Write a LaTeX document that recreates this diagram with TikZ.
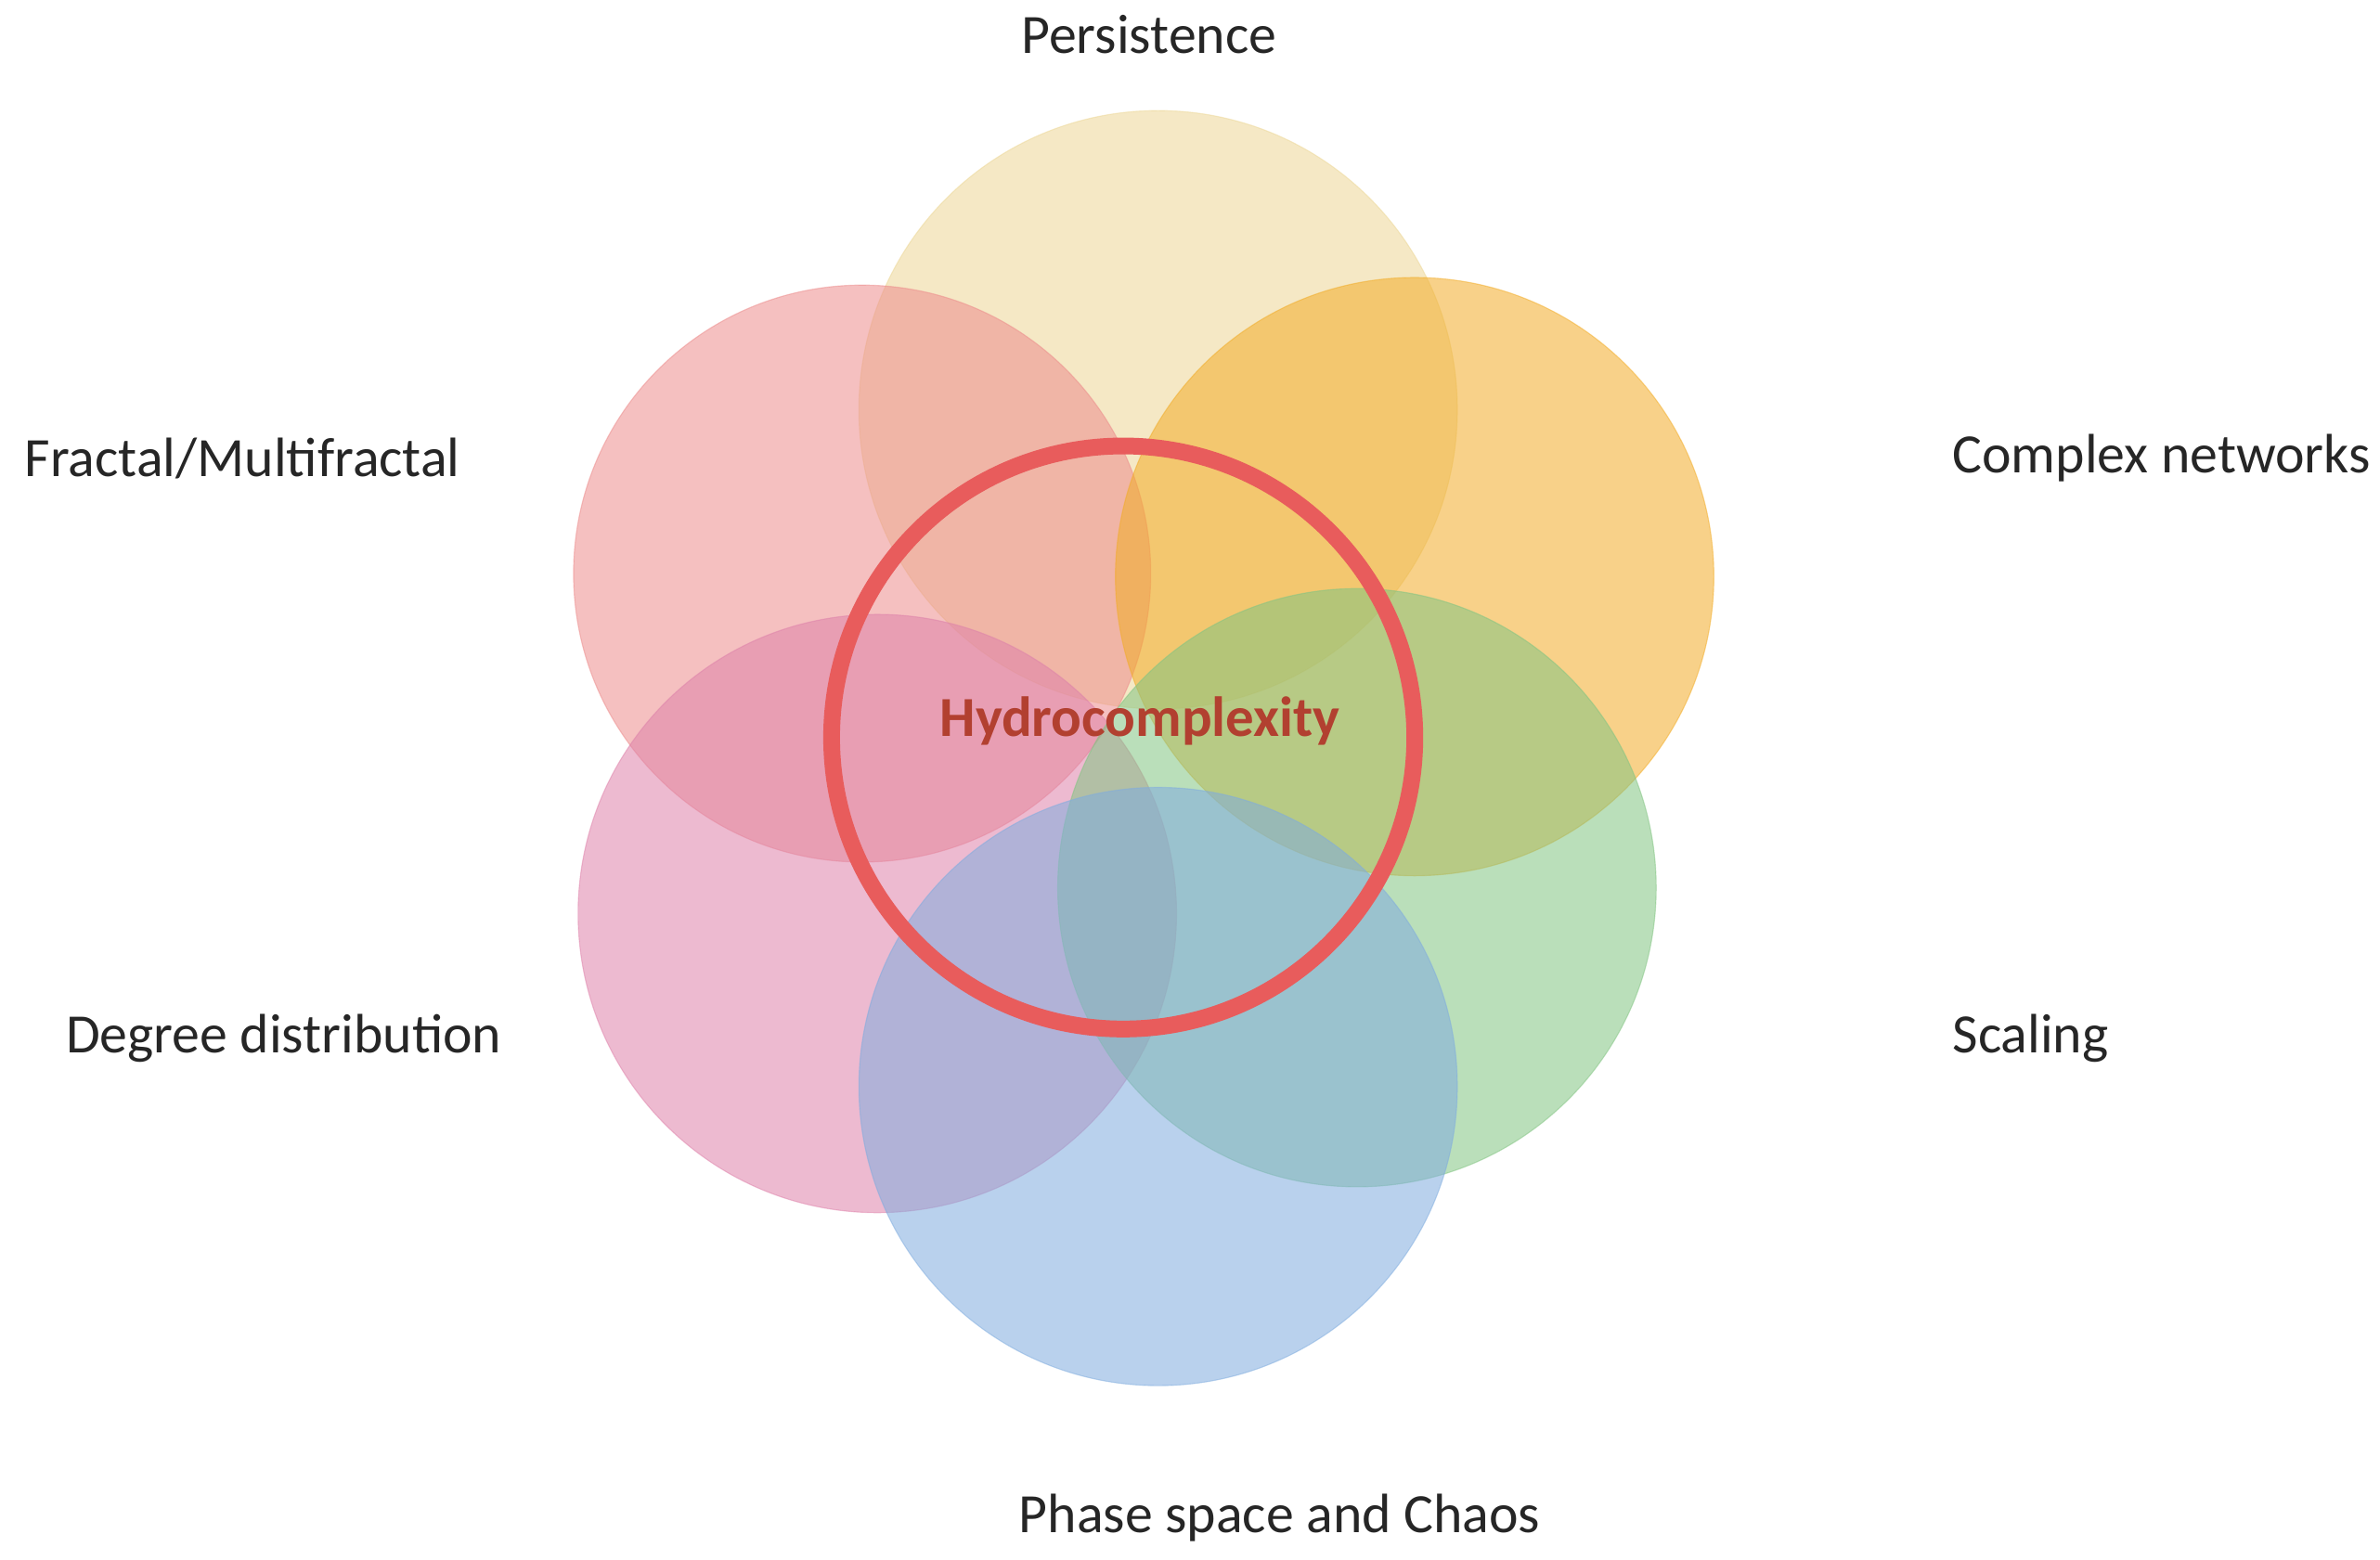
\documentclass[tikz,border=0pt]{standalone}
\usepackage{fontspec}
\setmainfont{Carlito}
\definecolor{persist}{RGB}{236,214,150}
\definecolor{fractal}{RGB}{236,140,140}
\definecolor{complexnw}{RGB}{242,172,40}
\definecolor{degree}{RGB}{222,130,170}
\definecolor{scaling}{RGB}{130,196,130}
\definecolor{phase}{RGB}{128,172,222}
\definecolor{ring}{RGB}{232,92,92}
\definecolor{hydro}{RGB}{178,64,48}
\tikzset{
  bubble/.style={circle,minimum size=3.94cm,inner sep=0pt,fill opacity=0.55,draw opacity=0.5,very thin},
  lbl/.style={font=\fontsize{10.4}{12}\selectfont,text=black!85}
}
\begin{document}
\begin{tikzpicture}[x=0.01cm,y=-0.01cm]
        \useasboundingbox (0,0) rectangle (1568,1028);

        \node[bubble,fill=persist,draw=persist] (Persistence) at (763,270) {};
        \node[bubble,fill=fractal,draw=fractal,minimum size=3.8cm] (Fractal) at (568,378) {};
        \node[bubble,fill=complexnw,draw=complexnw] (Complex) at (932,380) {};
        \node[bubble,fill=degree,draw=degree] (Degree) at (578,602) {};
        \node[bubble,fill=scaling,draw=scaling] (Scaling) at (894,585) {};
        \node[bubble,fill=phase,draw=phase] (Phase) at (763,716) {};

        \node[circle,draw=ring,line width=0.11cm,minimum size=3.84cm] (Ring) at (740,486) {};
        \node[font=\fontsize{10.6}{12}\selectfont\bfseries,text=hydro] (Hydro) at (751,475) {Hydrocomplexity};

        \node[lbl] (PersistenceLbl) at (757,23) {Persistence};
        \node[lbl,anchor=west] (FractalLbl) at (4,302) {Fractal/Multifractal};
        \node[lbl,anchor=west] (ComplexLbl) at (1274,302) {Complex networks};
        \node[lbl,anchor=west] (DegreeLbl) at (31,684) {Degree distribution};
        \node[lbl,anchor=west] (ScalingLbl) at (1274,684) {Scaling};
        \node[lbl] (PhaseLbl) at (843,1000) {Phase space and Chaos};
\end{tikzpicture}
\end{document}
